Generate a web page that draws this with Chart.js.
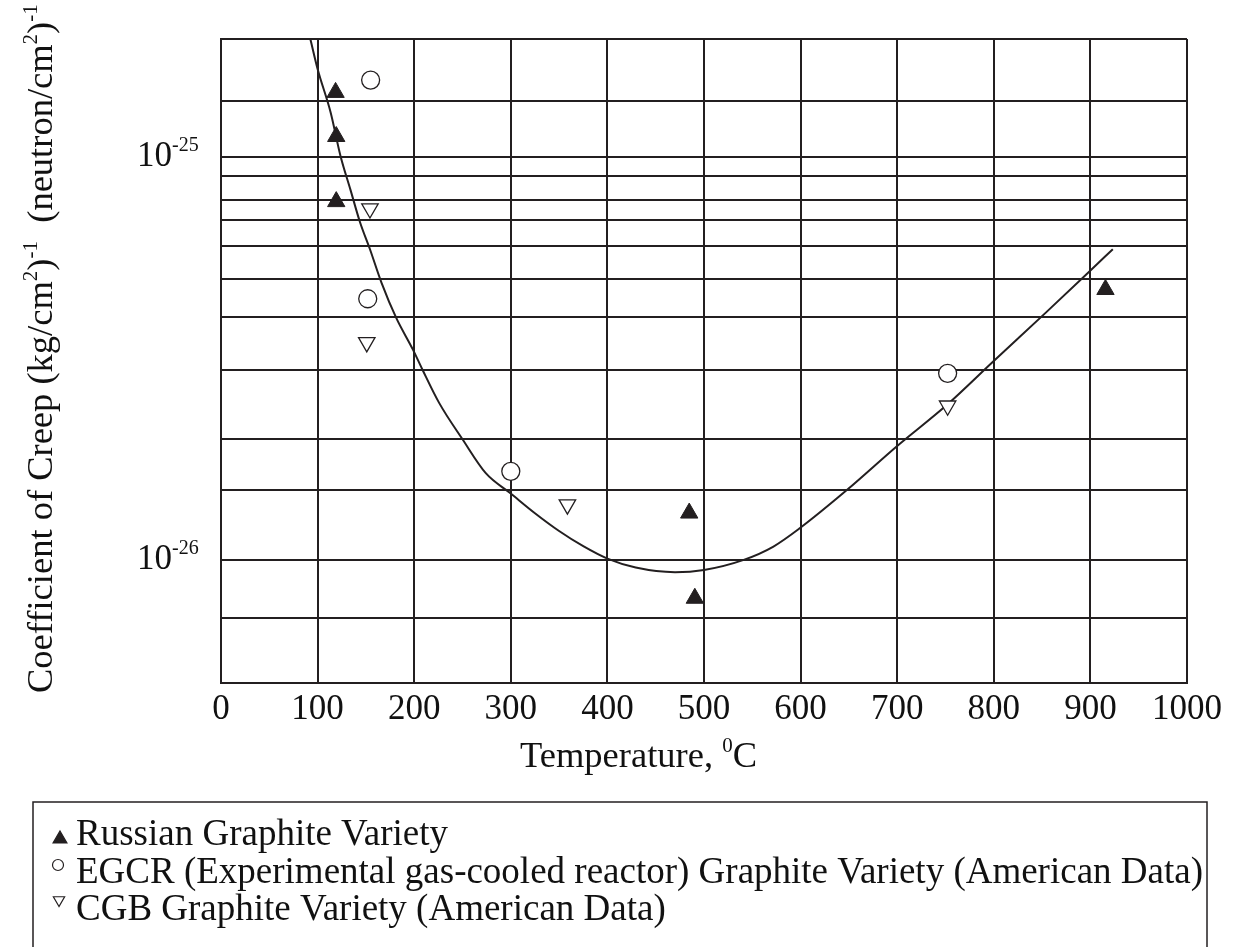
<!DOCTYPE html>
<html>
<head>
<meta charset="utf-8">
<script src="https://cdn.jsdelivr.net/npm/chart.js@4.4.1/dist/chart.umd.min.js"></script>
<style>
  html, body { margin: 0; padding: 0; background: #fff; }
  #wrap { width: 1236px; height: 947px; position: relative; }
</style>
</head>
<body>
<div id="wrap"><canvas id="myChart" width="1236" height="947"></canvas></div>
<script>
// temperature in degC, creep coefficient in (kg/cm2)^-1 (neutron/cm2)^-1
const russianTemp  = [118.6, 119.3, 119.3, 484.7, 490.5, 915.6];
const russianCreep = [1.442e-25, 1.121e-25, 7.73e-26, 1.306e-26, 8.03e-27, 4.68e-26];

const egcrTemp  = [154.9, 151.9, 300, 752.2];
const egcrCreep = [1.547e-25, 4.44e-26, 1.657e-26, 2.90e-26];

const cgbTemp  = [154.2, 150.9, 358.6, 752.2];
const cgbCreep = [7.43e-26, 3.46e-26, 1.37e-26, 2.41e-26];

// the fitted curve of the original figure
const curveTemp  = [92.5, 100, 113.5, 123.7, 133.9, 144, 154.2, 166.1, 181.4, 198.7, 208.6, 225.8,
                    250, 274.1, 300, 325, 350, 375, 400, 429.3, 470, 500, 541.1, 571.9,
                    599.4, 649.4, 699.4, 752.2, 798, 853.3, 897.6, 923.2];
const curveCreep = [1.956e-25, 1.648e-25, 1.286e-25, 1.003e-25, 8.29e-26, 6.86e-26, 5.89e-26, 4.87e-26,
                    3.98e-26, 3.32e-26, 2.96e-26, 2.45e-26, 1.99e-26, 1.64e-26, 1.46e-26, 1.305e-26,
                    1.179e-26, 1.081e-26, 1.007e-26, 9.57e-27, 9.32e-27, 9.44e-27, 1.0e-26, 1.079e-26,
                    1.199e-26, 1.50e-26, 1.91e-26, 2.43e-26, 3.08e-26, 4.09e-26, 5.15e-26, 5.89e-26];

// hand drawn log grid of the original
const yGrid = [7.17e-27, 1e-26, 1.49e-26, 1.99e-26, 2.96e-26, 4.0e-26, 4.98e-26, 6.0e-26,
               6.96e-26, 7.79e-26, 8.95e-26, 1e-25, 1.374e-25, 1.956e-25];
const yMin = 4.95e-27;
const yMax = 1.956e-25;
const yLabelValues = [1e-25, 1e-26];
const yLabelExps = ['-25', '-26'];

const seriesNames = [
  'Russian Graphite Variety',
  'EGCR (Experimental gas-cooled reactor) Graphite Variety (American Data)',
  'CGB Graphite Variety (American Data)'
];

const ink = '#231f20';
const serif = "'Liberation Serif', 'Times New Roman', serif";

function pts(xs, ys) {
  return xs.map((x, i) => ({ x: x, y: ys[i] }));
}

// text with superscripts: parts = [[text, isSup], ...]
function drawRich(ctx, parts, x, y, size) {
  let cx = x;
  parts.forEach(([t, sup]) => {
    const fs = sup ? Math.round(size * 0.58) : size;
    ctx.font = fs + 'px ' + serif;
    ctx.fillText(t, cx, sup ? y - size * 0.42 : y);
    cx += ctx.measureText(t).width;
  });
  return cx - x;
}

function marker(ctx, style, x, y, r, rot, filled) {
  ctx.beginPath();
  if (style === 'circle') {
    ctx.arc(x, y, r, 0, Math.PI * 2);
  } else {
    let a = rot * Math.PI / 180;
    for (let k = 0; k < 3; k++) {
      const px = x + Math.sin(a) * r, py = y - Math.cos(a) * r;
      if (k === 0) ctx.moveTo(px, py); else ctx.lineTo(px, py);
      a += Math.PI * 2 / 3;
    }
    ctx.closePath();
  }
  ctx.fillStyle = filled ? ink : '#fff';
  ctx.fill();
  ctx.lineWidth = 1.2;
  ctx.strokeStyle = ink;
  ctx.stroke();
}

const textPlugin = {
  id: 'textPlugin',
  afterDraw(chart) {
    const ctx = chart.ctx;
    const ys = chart.scales.y;
    ctx.save();
    ctx.fillStyle = '#111';
    ctx.textBaseline = 'alphabetic';
    ctx.textAlign = 'left';

    // y tick labels 10^-25, 10^-26
    yLabelValues.forEach((v, i) => {
      const py = ys.getPixelForValue(v);
      drawRich(ctx, [['10', false], [yLabelExps[i], true]], 137, py + 9, 35);
    });

    // y axis title, rotated
    ctx.save();
    ctx.translate(52, 693);
    ctx.rotate(-Math.PI / 2);
    drawRich(ctx, [['Coefficient of Creep (kg/cm', false], ['2', true], [')', false], ['-1', true],
                   ['  (neutron/cm', false], ['2', true], [')', false], ['-1', true]], 0, 0, 36.5);
    ctx.restore();

    // x axis title
    drawRich(ctx, [['Temperature, ', false], ['0', true], ['C', false]], 520, 767, 36.5);

    // legend box
    ctx.lineWidth = 1.5;
    ctx.strokeStyle = ink;
    ctx.strokeRect(33, 802, 1174, 200);
    const rows = [845, 883, 920];
    const sym = [['triangle', 60, 839, 8, 0, true], ['circle', 58, 865, 5.5, 0, false],
                 ['triangle', 59, 900, 6.5, 180, false]];
    seriesNames.forEach((name, i) => {
      const s = sym[i];
      marker(ctx, s[0], s[1], s[2], s[3], s[4], s[5]);
      ctx.fillStyle = '#111';
      ctx.font = '37px ' + serif;
      ctx.fillText(name, 76, rows[i]);
    });
    ctx.restore();
  }
};

const ctx = document.getElementById('myChart').getContext('2d');
new Chart(ctx, {
  type: 'scatter',
  data: {
    datasets: [
      {
        label: seriesNames[0],
        data: pts(russianTemp, russianCreep),
        pointStyle: 'triangle',
        pointRadius: 10,
        backgroundColor: ink,
        borderColor: ink,
        borderWidth: 1,
        order: 1
      },
      {
        label: seriesNames[1],
        data: pts(egcrTemp, egcrCreep),
        pointStyle: 'circle',
        pointRadius: 9,
        backgroundColor: '#fff',
        borderColor: ink,
        borderWidth: 1.3,
        order: 1
      },
      {
        label: seriesNames[2],
        data: pts(cgbTemp, cgbCreep),
        pointStyle: 'triangle',
        rotation: 180,
        pointRadius: 9.5,
        backgroundColor: '#fff',
        borderColor: ink,
        borderWidth: 1.3,
        order: 1
      },
      {
        label: 'curve',
        type: 'line',
        data: pts(curveTemp, curveCreep),
        borderColor: ink,
        borderWidth: 2,
        pointRadius: 0,
        fill: false,
        cubicInterpolationMode: 'monotone',
        order: 2
      }
    ]
  },
  options: {
    responsive: false,
    animation: false,
    layout: { padding: { left: 0, top: 39, right: 49, bottom: 204 } },
    plugins: {
      legend: { display: false },
      tooltip: { enabled: false }
    },
    scales: {
      x: {
        type: 'linear',
        min: 0,
        max: 1000,
        afterFit: s => { s.height = 60; },
        ticks: {
          stepSize: 100,
          autoSkip: false,
          maxRotation: 0,
          padding: 6,
          color: '#111',
          font: { family: serif, size: 35 },
          callback: v => String(v)
        },
        grid: { color: ink, lineWidth: 2, drawTicks: false },
        border: { color: ink, width: 2 }
      },
      y: {
        type: 'logarithmic',
        min: yMin,
        max: yMax,
        afterBuildTicks: s => { s.ticks = yGrid.map(v => ({ value: v })); },
        afterFit: s => { s.width = 221; },
        ticks: { display: false },
        grid: { color: ink, lineWidth: 2, drawTicks: false },
        border: { color: ink, width: 2 }
      }
    }
  },
  plugins: [textPlugin]
});
</script>
</body>
</html>
